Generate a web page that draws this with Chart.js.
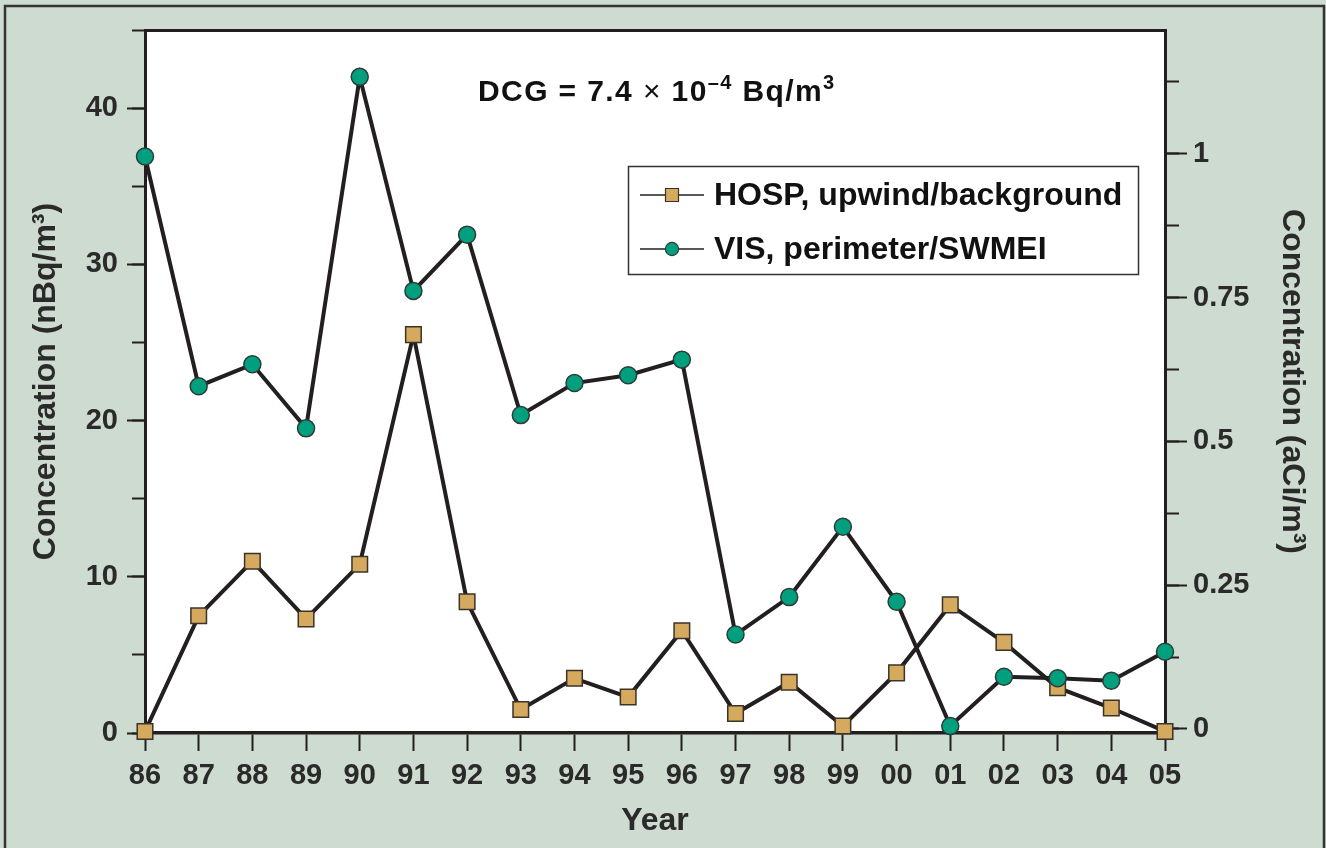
<!DOCTYPE html>
<html>
<head>
<meta charset="utf-8">
<script src="https://cdn.jsdelivr.net/npm/chart.js@4/dist/chart.umd.min.js"></script>
<style>
  html, body { margin: 0; padding: 0; background: #cedbd0; }
  #wrap { width: 1326px; height: 848px; }
</style>
</head>
<body>
<div id="wrap"><canvas id="chart" width="1326" height="848"></canvas></div>
<script>
// years 1986 - 2005
let Years = ['86', '87', '88', '89', '90', '91', '92', '93', '94', '95',
             '96', '97', '98', '99', '00', '01', '02', '03', '04', '05']
// nBq/m3
let HospValues = [0.1, 7.5, 11.0, 7.3, 10.8, 25.5, 8.4, 1.5, 3.5, 2.3,
                  6.55, 1.25, 3.25, 0.45, 3.85, 8.2, 5.8, 2.9, 1.6, 0.1]
let VisValues = [36.9, 22.2, 23.6, 19.5, 42.0, 28.3, 31.9, 20.35, 22.4, 22.9,
                 23.9, 6.3, 8.7, 13.2, 8.4, 0.45, 3.6, 3.5, 3.35, 5.2]
let LeftTicks = [0, 10, 20, 30, 40]
let LeftMinorTicks = [0, 5, 10, 15, 20, 25, 30, 35, 40, 45]
let RightTicks = [0, 0.25, 0.5, 0.75, 1]
let RightMinorTicks = [0, 0.125, 0.25, 0.375, 0.5, 0.625, 0.75, 0.875, 1, 1.125]

const INK = '#231f20'
const BG = '#cedbd0'

function SetTicks(List) {
    return function (scale) {
        scale.ticks = List.map(v => ({ value: v }))
    }
}

let Frame = {
    id: 'frame',
    beforeDraw(chart) {
        let ctx = chart.ctx
        let a = chart.chartArea
        ctx.save()
        ctx.fillStyle = BG
        ctx.fillRect(0, 0, chart.width, chart.height)
        ctx.strokeStyle = '#333'
        ctx.lineWidth = 2.5
        ctx.strokeRect(5, 6, 1319, 900)
        ctx.fillStyle = '#ffffff'
        ctx.fillRect(a.left, a.top, a.right - a.left, a.bottom - a.top)
        ctx.restore()
    },
    afterDraw(chart) {
        let ctx = chart.ctx
        ctx.save()
        // DCG note
        let x = 478, y = 101
        let parts = [
            ['DCG = 7.4 ', 'bold 30px "Liberation Sans"', 0],
            ['\u00d7', '30px "Liberation Sans"', 0],
            [' 10', 'bold 30px "Liberation Sans"', 0],
            ['\u20134', 'bold 20px "Liberation Sans"', -12],
            [' Bq/m', 'bold 30px "Liberation Sans"', 0],
            ['3', 'bold 20px "Liberation Sans"', -12]
        ]
        ctx.fillStyle = '#111'
        ctx.textBaseline = 'alphabetic'
        ctx.textAlign = 'left'
        ctx.letterSpacing = '1.4px'
        for (let [t, f, dy] of parts) {
            ctx.font = f
            ctx.fillText(t, x, y + dy)
            x += ctx.measureText(t).width
        }
        ctx.letterSpacing = '0px'
        // legend
        ctx.strokeStyle = '#333'
        ctx.lineWidth = 1.5
        ctx.strokeRect(628.5, 166.5, 510, 108)
        let rows = [[chart.data.datasets[1], 195], [chart.data.datasets[0], 249]]
        for (let [ds, ry] of rows) {
            ctx.strokeStyle = INK
            ctx.lineWidth = 1.5
            ctx.beginPath()
            ctx.moveTo(640, ry)
            ctx.lineTo(704, ry)
            ctx.stroke()
            ctx.fillStyle = ds.pointBackgroundColor
            ctx.strokeStyle = ds.pointBorderColor
            ctx.lineWidth = 1.2
            Chart.helpers.drawPoint(ctx, {
                pointStyle: ds.pointStyle,
                radius: ds.pointStyle === 'rect' ? 9.2 : 6.6,
                borderWidth: 1.2,
                rotation: 0
            }, 672, ry)
            ctx.fillStyle = '#111'
            ctx.font = 'bold 32px "Liberation Sans"'
            ctx.textBaseline = 'middle'
            ctx.fillText(ds.label, 714, ry + 1)
        }
        ctx.restore()
    }
}

let TickFont = { family: 'Liberation Sans', size: 29, weight: 'bold' }
let TitleFont = { family: 'Liberation Sans', size: 32, weight: 'bold' }

new Chart(document.getElementById('chart'), {
    type: 'line',
    data: {
        labels: Years,
        datasets: [{
            label: 'VIS, perimeter/SWMEI',
            data: VisValues,
            order: 0,
            borderColor: INK,
            borderWidth: 4,
            pointStyle: 'circle',
            pointRadius: 8.5,
            pointBackgroundColor: '#00a07f',
            pointBorderColor: '#2e3b36',
            pointBorderWidth: 1.5,
            tension: 0,
            clip: false
        }, {
            label: 'HOSP, upwind/background',
            data: HospValues,
            order: 1,
            borderColor: INK,
            borderWidth: 4,
            pointStyle: 'rect',
            pointRadius: 11,
            pointBackgroundColor: '#d6aa5e',
            pointBorderColor: '#3a3328',
            pointBorderWidth: 1.5,
            tension: 0,
            clip: false
        }]
    },
    plugins: [Frame],
    options: {
        responsive: false,
        animation: false,
        events: [],
        layout: { padding: 0 },
        plugins: {
            legend: { display: false },
            tooltip: { enabled: false }
        },
        scales: {
            x: {
                type: 'category',
                position: 'bottom',
                offset: false,
                grid: { drawOnChartArea: false, tickLength: 18, tickWidth: 2, tickColor: INK },
                border: { color: INK, width: 3.5 },
                ticks: { font: TickFont, color: '#2a2a2a', padding: 8, autoSkip: false, maxRotation: 0 },
                title: { display: true, text: 'Year', font: TitleFont, color: '#2a2a2a', padding: { top: 0, bottom: 8 } },
                afterFit(scale) { scale.height = 115 }
            },
            xTop: {
                type: 'category',
                position: 'top',
                offset: false,
                grid: { drawOnChartArea: false, drawTicks: false },
                border: { color: INK, width: 3 },
                ticks: { display: false },
                afterFit(scale) { scale.height = 30 }
            },
            y: {
                position: 'left',
                min: 0,
                max: 45,
                weight: 1,
                afterBuildTicks: SetTicks(LeftTicks),
                grid: { drawOnChartArea: false, tickLength: 18, tickWidth: 2, tickColor: INK },
                border: { color: INK, width: 3 },
                ticks: { font: TickFont, color: '#2a2a2a', padding: 9 },
                title: { display: true, text: 'Concentration (nBq/m\u00b3)', font: TitleFont, color: '#2a2a2a', padding: { top: 27, bottom: 0 } },
                afterFit(scale) { scale.width = 145 }
            },
            yMinor: {
                position: 'left',
                min: 0,
                max: 45,
                weight: 0,
                afterBuildTicks: SetTicks(LeftMinorTicks),
                grid: { drawOnChartArea: false, tickLength: 13, tickWidth: 2, tickColor: INK },
                border: { display: false },
                ticks: { display: false },
                afterFit(scale) { scale.width = 0 }
            },
            y2: {
                position: 'right',
                min: -0.007,
                max: 1.215,
                weight: 1,
                afterBuildTicks: SetTicks(RightTicks),
                grid: { drawOnChartArea: false, tickLength: 22, tickWidth: 2, tickColor: INK },
                border: { color: INK, width: 3 },
                ticks: { font: TickFont, color: '#2a2a2a', padding: 6, callback: v => String(v) },
                title: { display: true, text: 'Concentration (aCi/m\u00b3)', font: TitleFont, color: '#2a2a2a', padding: { top: 15, bottom: 0 } },
                afterFit(scale) { scale.width = 161 }
            },
            y2Minor: {
                position: 'right',
                min: -0.007,
                max: 1.215,
                weight: 0,
                afterBuildTicks: SetTicks(RightMinorTicks),
                grid: { drawOnChartArea: false, tickLength: 14, tickWidth: 2, tickColor: INK },
                border: { display: false },
                ticks: { display: false },
                afterFit(scale) { scale.width = 0 }
            }
        }
    }
})
</script>
</body>
</html>
